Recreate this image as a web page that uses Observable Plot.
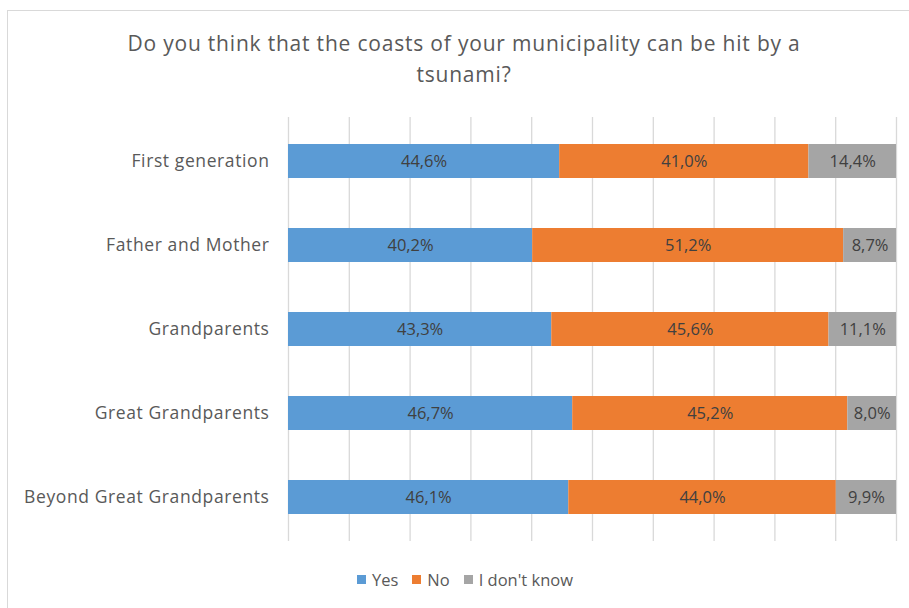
<!DOCTYPE html>
<html>
<head>
<meta charset="utf-8">
<script src="https://cdn.jsdelivr.net/npm/d3@7"></script>
<script src="https://cdn.jsdelivr.net/npm/@observablehq/plot@0.6"></script>
<style>
  html, body { margin: 0; padding: 0; background: #fff; }
  body { width: 909px; height: 608px; overflow: hidden; position: relative; font-family: "Open Sans", "Noto Sans", sans-serif; }
  #frame { position: absolute; left: 7px; top: 10px; width: 920px; height: 620px; border: 1.5px solid #d9d9d9; box-sizing: border-box; }
  #title { position: absolute; left: 0; width: 928px; top: 28px; text-align: center; font-size: 21px; letter-spacing: 0.8px; line-height: 31px; color: #595959; }
  #chart { position: absolute; left: 0; top: 105px; }
  #legend { position: absolute; left: 0; width: 930px; top: 568px; display: flex; justify-content: center; align-items: center; font-size: 16.5px; color: #595959; }
  #legend span.item { display: inline-flex; align-items: center; margin: 0 7px; }
  #legend span.sw { display: inline-block; width: 9px; height: 9px; margin-right: 6px; }
</style>
</head>
<body>
<div id="frame"></div>
<div id="title">Do you think that the coasts of your municipality can be hit by a<br>tsunami?</div>
<div id="chart"></div>
<div id="legend"></div>
<script>
const categories = ["First generation", "Father and Mother", "Grandparents", "Great Grandparents", "Beyond Great Grandparents"];
const series = ["Yes", "No", "I don't know"];
const yesValues = [44.6, 40.2, 43.3, 46.7, 46.1];
const noValues = [41.0, 51.2, 45.6, 45.2, 44.0];
const dkValues = [14.4, 8.7, 11.1, 8.0, 9.9];
const colors = ["#5B9BD5", "#ED7D31", "#A5A5A5"];
const xTicks = [0, 0.1, 0.2, 0.3, 0.4, 0.5, 0.6, 0.7, 0.8, 0.9, 1];

const valueLists = [yesValues, noValues, dkValues];
const data = [];
categories.forEach((c, i) => {
  series.forEach((s, j) => {
    data.push({category: c, series: s, value: valueLists[j][i]});
  });
});

const fmt = v => v.toFixed(1).replace(".", ",") + "%";

const chart = Plot.plot({
  width: 909,
  height: 450,
  marginLeft: 288,
  marginRight: 13,
  marginTop: 12,
  marginBottom: 14,
  style: { fontFamily: "'Open Sans', 'Noto Sans', sans-serif", background: "transparent" },
  x: { domain: [0, 1], axis: null },
  y: { domain: categories, paddingInner: 0.59, paddingOuter: 0.295, label: null },
  color: { domain: series, range: colors },
  marks: [
    Plot.ruleX(xTicks, { stroke: "#d9d9d9", strokeWidth: 1.3 }),
    Plot.barX(data, Plot.stackX({ offset: "normalize", order: series, x: "value", y: "category", fill: "series" })),
    Plot.text(data, Plot.stackX({ offset: "normalize", order: series, x: "value", y: "category", z: "series", text: d => fmt(d.value), fill: "#404040", fontSize: 16.5 })),
    Plot.axisY({ tickSize: 0, tickPadding: 19, fontSize: 17.5, color: "#595959", label: null })
  ]
});
document.getElementById("chart").appendChild(chart);
d3.select(chart).selectAll("[aria-label='y-axis tick label'] text").attr("fill", "#595959").style("letter-spacing", "0.6px");

const legend = document.getElementById("legend");
series.forEach((s, j) => {
  const item = document.createElement("span");
  item.className = "item";
  item.innerHTML = `<span class="sw" style="background:${colors[j]}"></span>${s}`;
  legend.appendChild(item);
});
</script>
</body>
</html>
